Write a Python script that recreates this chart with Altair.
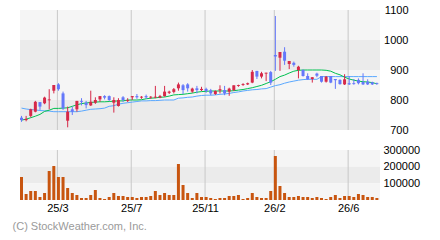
import altair as alt
import pandas as pd

# ---------------- data ----------------
month_labels = ["25/3", "25/7", "25/11", "26/2", "26/6"]
month_pos = [8.1, 24.1, 40.1, 55.1, 71.1]

opens = [741, 733, 747, 761, 793, 789, 799, 831, 852, 822,
         731, 769, 769, 797, 791, 782, 791, 802, 813, 813,
         791, 780, 809, 797, 809, 813, 808, 813, 808, 808,
         808, 813, 824, 827, 839, 849, 852, 828, 839, 833,
         837, 832, 820, 832, 833, 828, 833, 847, 850, 852,
         858, 897, 878, 888, 893, 950, 941, 961, 920, 924,
         900, 900, 880, 870, 888, 880, 861, 880, 870, 867,
         852, 856, 856, 867, 860, 861, 859, 856]
highs = [747, 747, 771, 797, 793, 811, 836, 850, 856, 828,
         778, 778, 797, 806, 797, 831, 809, 813, 816, 815,
         809, 806, 813, 806, 813, 820, 813, 818, 813, 847,
         817, 847, 831, 840, 858, 853, 856, 841, 847, 844,
         841, 837, 832, 849, 847, 841, 849, 851, 856, 858,
         900, 897, 894, 891, 897, 1080, 960, 976, 930, 928,
         914, 902, 889, 876, 891, 880, 880, 880, 870, 869,
         886, 880, 870, 872, 889, 869, 861, 858]
lows = [727, 729, 742, 759, 767, 786, 769, 822, 831, 767,
        709, 750, 761, 782, 772, 780, 787, 794, 802, 797,
        758, 778, 794, 793, 800, 804, 804, 804, 804, 806,
        806, 811, 820, 822, 831, 820, 828, 824, 822, 830,
        824, 816, 817, 822, 816, 814, 830, 844, 847, 850,
        856, 870, 872, 863, 850, 897, 897, 917, 903, 911,
        872, 878, 867, 858, 876, 858, 858, 856, 837, 851,
        850, 850, 851, 852, 850, 850, 850, 851]
closes = [733, 737, 769, 794, 778, 808, 802, 850, 836, 772,
          761, 761, 797, 794, 783, 794, 800, 813, 808, 800,
          800, 800, 800, 800, 813, 809, 811, 809, 811, 811,
          813, 828, 828, 836, 852, 833, 839, 838, 833, 837,
          830, 822, 830, 836, 822, 838, 849, 850, 853, 856,
          894, 878, 889, 891, 858, 945, 960, 931, 930, 917,
          911, 880, 869, 876, 881, 861, 878, 858, 866, 853,
          869, 852, 853, 856, 852, 852, 852, 853]
volumes = [138000, 36000, 54000, 54000, 18000, 42000, 174000, 204000, 138000, 138000,
           72000, 42000, 30000, 12000, 12000, 30000, 60000, 12000, 6000, 18000,
           42000, 24000, 24000, 18000, 18000, 12000, 18000, 18000, 24000, 54000,
           30000, 42000, 30000, 30000, 216000, 90000, 42000, 12000, 42000,
           18000, 18000, 12000, 6000, 12000, 12000, 24000, 24000, 30000, 6000,
           12000, 42000, 18000, 12000, 12000, 54000, 264000, 84000, 42000, 18000,
           18000, 24000, 18000, 18000, 12000, 18000, 12000, 6000, 18000, 30000,
           12000, 24000, 24000, 18000, 36000, 30000, 18000, 18000, 12000]
ma_short = [733, 736, 741, 746, 752, 762, 766, 772, 772, 773,
            774, 779, 784, 788, 790, 792, 793, 794, 794, 795,
            796, 797, 797, 800, 800, 800, 801, 804, 806, 807,
            809, 810, 813, 817, 818, 819, 821, 823, 826, 828,
            829, 830, 830, 830, 830, 830, 831, 833, 835, 838,
            841, 845, 849, 855, 861, 869, 878, 883, 890, 896,
            899, 900, 900, 900, 900, 900, 899, 896, 889, 884,
            876, 870, 866, 863, 861, 860, 858, 854]
ma_long = [773, 770, 768, 767, 765, 764, 763, 761, 761, 761,
           761, 761, 761, 763, 766, 769, 770, 771, 773, 779,
           781, 786, 789, 791, 793, 795, 797, 797, 798, 798,
           799, 800, 800, 800, 806, 807, 809, 810, 813, 815,
           816, 816, 817, 819, 820, 822, 825, 827, 830, 832,
           834, 835, 837, 838, 843, 848, 851, 856, 860, 863,
           866, 868, 869, 869, 869, 878, 878, 878, 878, 878,
           878, 878, 878, 878, 878, 878, 878, 878]

price_ticks = [700, 800, 900, 1000, 1100]
vol_ticks = [100000, 200000, 300000]
price_band_lo = [1000, 900, 800, 700]
price_band_hi = [1100, 1000, 900, 800]
price_band_shade = ["a", "b", "a", "b"]
vol_band_lo = [200000, 100000, 0]
vol_band_hi = [300000, 200000, 100000]
vol_band_shade = ["a", "b", "a"]

N = len(opens)

# ---------------- styles ----------------
FONT = "Liberation Sans"
RED = "#d62848"
BLUE = "#6478fa"
GREEN = "#00c050"
LBLUE = "#5aa8ff"
VOLC = "#c8550f"
GRID = "#c8c8c8"

df = pd.DataFrame({
    "i": list(range(N)), "o": opens, "h": highs, "l": lows, "c": closes,
    "v": volumes, "ma1": ma_short, "ma2": ma_long,
})
bands_p = pd.DataFrame({"lo": price_band_lo, "hi": price_band_hi, "s": price_band_shade,
                        "xs": 0, "xe": N})
bands_v = pd.DataFrame({"lo": vol_band_lo, "hi": vol_band_hi, "s": vol_band_shade,
                        "xs": 0, "xe": N})
grid_df = pd.DataFrame({"m": month_pos, "lab": month_labels})

label_expr = "''"
for pos, lab in reversed(list(zip(month_pos, month_labels))):
    label_expr = f"abs(datum.value - {pos}) < 0.5 ? '{lab}' : ({label_expr})"

x_axis = alt.Axis(values=month_pos, labelExpr=label_expr, ticks=False, domain=False,
                  grid=False, labelPadding=2, labelFontSize=11, labelFont=FONT,
                  labelColor="#000000", labelFlush=False, labelOverlap=False,
                  labelAngle=0, title=None, orient="bottom")


def X(field):
    return alt.X(field, scale=alt.Scale(domain=[0, N], nice=False, zero=False), axis=x_axis)


def pscale():
    return alt.Scale(domain=[700, 1100], range=[120, 0], nice=False, zero=False)


def vscale():
    return alt.Scale(domain=[0, 300000], range=[190, 140], nice=False, zero=False)


def shades():
    return alt.Scale(domain=["a", "b"], range=["#f5f5f5", "#ebebeb"])


def updown():
    return alt.Color("dir:N", scale=alt.Scale(domain=["up", "down"], range=[RED, BLUE]),
                     legend=None)


p_axis = alt.Axis(orient="right", values=price_ticks, ticks=False, domain=False, grid=False,
                  labelAlign="right", labelBaseline="middle", labelPadding=28, format="d",
                  labelFontSize=11, labelFont=FONT, labelColor="#000000",
                  labelFlush=False, labelOverlap=False, title=None)
v_axis = alt.Axis(orient="right", values=vol_ticks, ticks=False, domain=False, grid=False,
                  labelAlign="left", labelBaseline="middle", labelPadding=3, format="d",
                  labelFontSize=11, labelFont=FONT, labelColor="#000000",
                  labelFlush=False, labelOverlap=False, title=None)

base = alt.Chart(df).transform_calculate(
    dir="datum.c >= datum.o ? 'up' : 'down'",
    bl="min(datum.o, datum.c)",
    bh="max(datum.o, datum.c)",
    x2="datum.i + 0.65",
    xm="datum.i + 0.33",
    zero="0",
)

# ---- price panel ----
p_bands = alt.Chart(bands_p).mark_rect().encode(
    x=X("xs:Q"), x2="xe:Q",
    y=alt.Y("lo:Q", scale=pscale(), axis=p_axis), y2="hi:Q",
    color=alt.Color("s:N", scale=shades(), legend=None),
)
p_grid = alt.Chart(grid_df).transform_calculate(y0="700", y1="1100").mark_rule(
    color=GRID, strokeWidth=1).encode(
    x=X("m:Q"),
    y=alt.Y("y0:Q", scale=pscale(), axis=None), y2="y1:Q",
)
ma2 = base.mark_line(color=LBLUE, strokeWidth=1).encode(
    x=X("xm:Q"),
    y=alt.Y("ma2:Q", scale=pscale(), axis=None),
)
ma1 = base.mark_line(color=GREEN, strokeWidth=1).encode(
    x=X("xm:Q"),
    y=alt.Y("ma1:Q", scale=pscale(), axis=None),
)
wicks = base.mark_rule(strokeWidth=1).encode(
    x=X("xm:Q"),
    y=alt.Y("l:Q", scale=pscale(), axis=None), y2="h:Q",
    color=updown(),
)
bodies = base.mark_rect().encode(
    x=X("i:Q"), x2="x2:Q",
    y=alt.Y("bl:Q", scale=pscale(), axis=None), y2="bh:Q",
    color=updown(),
)

# ---- volume panel ----
v_bands = alt.Chart(bands_v).mark_rect().encode(
    x=X("xs:Q"), x2="xe:Q",
    y=alt.Y("lo:Q", scale=vscale(), axis=v_axis), y2="hi:Q",
    color=alt.Color("s:N", scale=shades(), legend=None),
)
v_grid = alt.Chart(grid_df).transform_calculate(y0="0", y1="300000").mark_rule(
    color=GRID, strokeWidth=1).encode(
    x=X("m:Q"),
    y=alt.Y("y0:Q", scale=vscale(), axis=None), y2="y1:Q",
)
vbars = base.mark_rect(color=VOLC).encode(
    x=X("i:Q"), x2="x2:Q",
    y=alt.Y("zero:Q", scale=vscale(), axis=None), y2="v:Q",
)

chart = alt.layer(
    p_bands, p_grid, ma2, ma1, wicks, bodies, v_bands, v_grid, vbars
).resolve_scale(
    y="independent", color="independent"
).properties(
    width=360, height=190,
    autosize=alt.AutoSizeParams(type="none"),
    padding={"left": 20, "top": 10, "right": 60, "bottom": 40},
    background="white",
    title=alt.TitleParams("(C) StockWeather.com, Inc.", orient="bottom", anchor="start",
                          fontSize=11, fontWeight="normal", color="#9a9a9a", font=FONT,
                          dx=-7, offset=8),
).configure_view(stroke=None)

chart.save("out.html", embed_options={"renderer": "svg", "actions": False})
